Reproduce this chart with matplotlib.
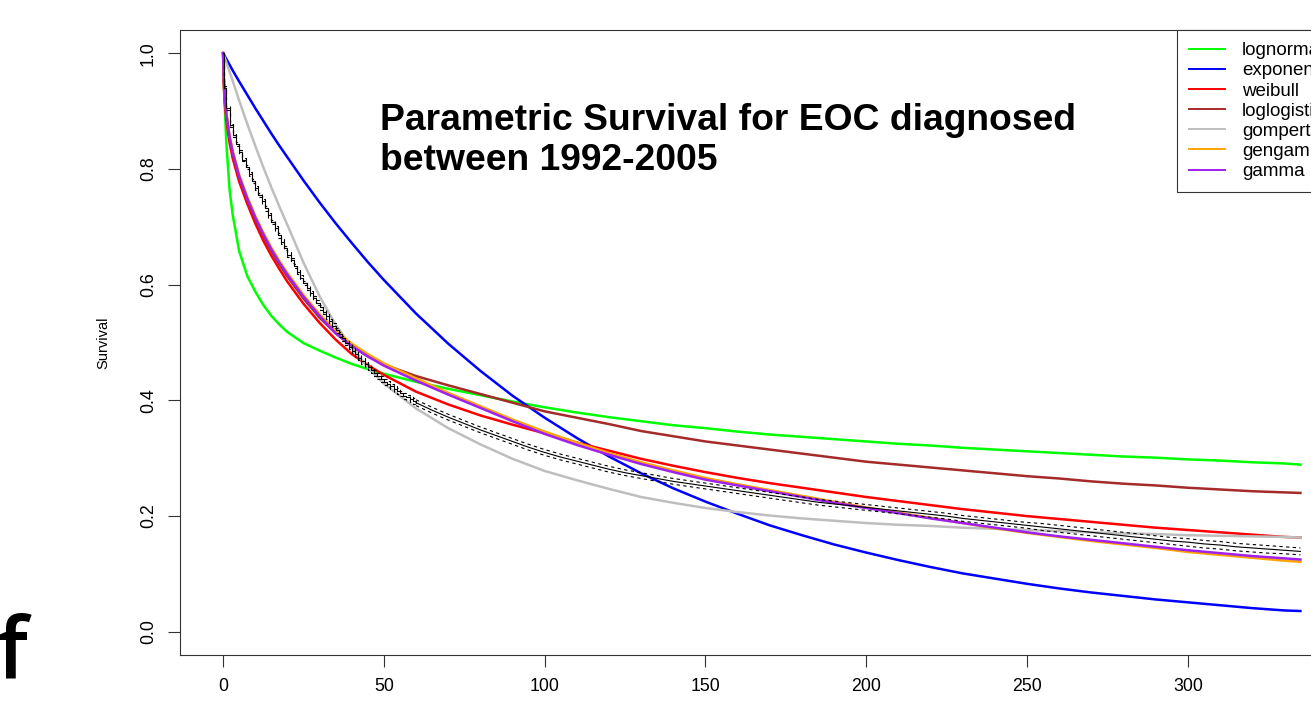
import matplotlib
matplotlib.use("Agg")
import matplotlib.pyplot as plt

plt.rcParams["font.family"] = ["Liberation Sans", "DejaVu Sans"]

# time grid (months) for the fitted parametric curves
fit_t = [0, 0.25, 0.5, 1, 2, 3, 5, 7.5, 10, 12.5, 15, 17.5, 20, 25, 30, 35, 40, 45, 50,
         60, 70, 80, 90, 100, 110, 120, 130, 140, 150, 160, 170, 180, 190, 200,
         210, 220, 230, 240, 250, 260, 270, 280, 290, 300, 310, 320, 330, 335]

lognormal = [1.0, 0.95, 0.91, 0.845, 0.765, 0.72, 0.658, 0.615, 0.588, 0.565, 0.546, 0.531,
             0.518, 0.499, 0.486, 0.474, 0.463, 0.454, 0.446,
             0.432, 0.42, 0.409, 0.398, 0.388, 0.379, 0.371, 0.364, 0.357, 0.352, 0.346,
             0.341, 0.337, 0.333, 0.329, 0.325, 0.322, 0.318, 0.315, 0.312, 0.309,
             0.306, 0.303, 0.301, 0.298, 0.296, 0.293, 0.291, 0.289]
exponential = [1.0, 0.998, 0.995, 0.99, 0.98, 0.97, 0.951, 0.928, 0.905, 0.883, 0.861, 0.84,
               0.82, 0.78, 0.742, 0.706, 0.672, 0.639, 0.608,
               0.55, 0.498, 0.451, 0.408, 0.37, 0.335, 0.303, 0.274, 0.248, 0.225, 0.204,
               0.184, 0.167, 0.151, 0.137, 0.124, 0.112, 0.101, 0.092, 0.083, 0.075,
               0.068, 0.062, 0.056, 0.051, 0.046, 0.041, 0.037, 0.036]
weibull = [1.0, 0.94, 0.915, 0.885, 0.845, 0.818, 0.778, 0.74, 0.706, 0.676, 0.65, 0.627,
           0.605, 0.567, 0.534, 0.505, 0.48, 0.461, 0.444,
           0.415, 0.393, 0.374, 0.358, 0.343, 0.327, 0.313, 0.299, 0.287, 0.276, 0.266,
           0.257, 0.249, 0.241, 0.233, 0.226, 0.219, 0.212, 0.206, 0.2, 0.195,
           0.19, 0.185, 0.18, 0.176, 0.172, 0.168, 0.164, 0.163]
loglogistic = [1.0, 0.95, 0.925, 0.895, 0.855, 0.828, 0.786, 0.747, 0.713, 0.684, 0.658, 0.635,
               0.614, 0.576, 0.543, 0.516, 0.494, 0.476, 0.462,
               0.442, 0.426, 0.411, 0.396, 0.381, 0.37, 0.359, 0.347, 0.338, 0.329, 0.322,
               0.315, 0.308, 0.301, 0.294, 0.289, 0.284, 0.279, 0.274, 0.269, 0.265,
               0.26, 0.256, 0.253, 0.249, 0.246, 0.243, 0.241, 0.24]
gompertz = [1.0, 0.996, 0.992, 0.984, 0.968, 0.952, 0.918, 0.878, 0.84, 0.803, 0.768, 0.735,
            0.703, 0.638, 0.58, 0.531, 0.491, 0.457, 0.429,
            0.386, 0.352, 0.324, 0.299, 0.278, 0.262, 0.247, 0.233, 0.223, 0.214, 0.207,
            0.201, 0.196, 0.192, 0.188, 0.185, 0.183, 0.18, 0.178, 0.176, 0.174,
            0.172, 0.17, 0.169, 0.167, 0.166, 0.165, 0.164, 0.163]
gengamma = [1.0, 0.95, 0.926, 0.897, 0.858, 0.831, 0.79, 0.752, 0.719, 0.69, 0.664, 0.641,
            0.62, 0.582, 0.549, 0.52, 0.498, 0.48, 0.464,
            0.438, 0.413, 0.39, 0.367, 0.346, 0.327, 0.309, 0.293, 0.279, 0.266, 0.255,
            0.245, 0.235, 0.225, 0.215, 0.206, 0.197, 0.188, 0.179, 0.171, 0.164,
            0.157, 0.151, 0.145, 0.138, 0.133, 0.128, 0.123, 0.121]
gamma = [1.0, 0.95, 0.925, 0.895, 0.855, 0.828, 0.787, 0.749, 0.716, 0.687, 0.661, 0.638,
         0.617, 0.579, 0.546, 0.516, 0.494, 0.476, 0.46,
         0.434, 0.41, 0.387, 0.364, 0.342, 0.323, 0.306, 0.29, 0.276, 0.263, 0.253,
         0.243, 0.233, 0.223, 0.214, 0.205, 0.196, 0.188, 0.18, 0.172, 0.165,
         0.159, 0.153, 0.147, 0.141, 0.136, 0.131, 0.127, 0.125]

# Kaplan-Meier estimate with confidence band
km_t = [0, 0.3] + list(range(1, 61)) + list(range(65, 340, 5))
km_s = [1.0, 0.94, 0.905, 0.875, 0.858, 0.843, 0.829, 0.816, 0.803, 0.791, 0.779, 0.767,
        0.755, 0.744, 0.732, 0.72, 0.708, 0.697, 0.685, 0.674, 0.663, 0.652,
        0.642, 0.632, 0.622, 0.612, 0.603, 0.594, 0.585, 0.577, 0.569, 0.561,
        0.553, 0.545, 0.537, 0.529, 0.521, 0.514, 0.507, 0.5, 0.493, 0.486,
        0.48, 0.474, 0.468, 0.462, 0.457, 0.452, 0.447, 0.442, 0.437, 0.432,
        0.428, 0.424, 0.42, 0.416, 0.412, 0.408, 0.405, 0.402, 0.399, 0.396,
        0.383, 0.371, 0.36, 0.349, 0.339, 0.329, 0.319, 0.31, 0.302, 0.295,
        0.288, 0.281, 0.275, 0.27, 0.265, 0.26, 0.256, 0.252, 0.248, 0.244,
        0.24, 0.236, 0.232, 0.228, 0.224, 0.221, 0.218, 0.215, 0.212, 0.209,
        0.206, 0.203, 0.2, 0.196, 0.193, 0.19, 0.187, 0.184, 0.181, 0.178,
        0.175, 0.172, 0.169, 0.166, 0.163, 0.16, 0.157, 0.155, 0.152, 0.15,
        0.147, 0.145, 0.143, 0.141, 0.139]
km_upper = [1.0, 0.943, 0.908, 0.878, 0.861, 0.846, 0.832, 0.819, 0.806, 0.794, 0.782, 0.770,
            0.759, 0.748, 0.736, 0.724, 0.712, 0.701, 0.689, 0.678, 0.667, 0.656,
            0.646, 0.636, 0.626, 0.616, 0.607, 0.598, 0.589, 0.581, 0.573, 0.565,
            0.557, 0.549, 0.541, 0.533, 0.525, 0.518, 0.511, 0.504, 0.497, 0.490,
            0.485, 0.479, 0.473, 0.467, 0.462, 0.457, 0.452, 0.447, 0.442, 0.437,
            0.433, 0.429, 0.425, 0.421, 0.417, 0.413, 0.410, 0.407, 0.404, 0.401,
            0.388, 0.376, 0.365, 0.354, 0.344, 0.334, 0.324, 0.315, 0.307, 0.300,
            0.293, 0.286, 0.280, 0.275, 0.270, 0.265, 0.261, 0.257, 0.253, 0.249,
            0.245, 0.241, 0.237, 0.233, 0.229, 0.226, 0.223, 0.220, 0.217, 0.214,
            0.211, 0.208, 0.205, 0.201, 0.198, 0.195, 0.192, 0.189, 0.187, 0.184,
            0.181, 0.178, 0.175, 0.172, 0.169, 0.166, 0.163, 0.161, 0.158, 0.156,
            0.153, 0.151, 0.149, 0.147, 0.145]
km_lower = [1.0, 0.937, 0.902, 0.872, 0.855, 0.840, 0.826, 0.813, 0.800, 0.788, 0.776, 0.764,
            0.751, 0.740, 0.728, 0.716, 0.704, 0.693, 0.681, 0.670, 0.659, 0.648,
            0.638, 0.628, 0.618, 0.608, 0.599, 0.590, 0.581, 0.573, 0.565, 0.557,
            0.549, 0.541, 0.533, 0.525, 0.517, 0.510, 0.503, 0.496, 0.489, 0.482,
            0.475, 0.469, 0.463, 0.457, 0.452, 0.447, 0.442, 0.437, 0.432, 0.427,
            0.423, 0.419, 0.415, 0.411, 0.407, 0.403, 0.400, 0.397, 0.394, 0.391,
            0.378, 0.366, 0.355, 0.344, 0.334, 0.324, 0.314, 0.305, 0.297, 0.290,
            0.283, 0.276, 0.270, 0.265, 0.260, 0.255, 0.251, 0.247, 0.243, 0.239,
            0.235, 0.231, 0.227, 0.223, 0.219, 0.216, 0.213, 0.210, 0.207, 0.204,
            0.201, 0.198, 0.195, 0.191, 0.188, 0.185, 0.182, 0.179, 0.175, 0.172,
            0.169, 0.166, 0.163, 0.160, 0.157, 0.154, 0.151, 0.148, 0.145, 0.143,
            0.140, 0.138, 0.136, 0.135, 0.133]

models = ["lognormal", "exponential", "weibull", "loglogistic", "gompertz", "gengamma", "gamma"]
curves = [lognormal, exponential, weibull, loglogistic, gompertz, gengamma, gamma]
colors = ["#00FF00", "#0000FF", "#FF0000", "#A52A2A", "#BEBEBE", "#FFA500", "#A020F0"]

fig = plt.figure(figsize=(13.11, 7.01), dpi=100)
# the plot region runs past the right edge of the picture (cropped screenshot)
ax = fig.add_axes([180 / 1311, 1 - 655 / 701, (1343.5 - 180) / 1311, (655 - 30) / 701])

for name, vals, col in zip(models, curves, colors):
    ax.plot(fit_t, vals, color=col, lw=1.8, label=name, zorder=2)

# monthly steps are visible early on; later the steps are tiny, so just join the points
n_early = 62
for vals, ls in [(km_s, "-"), (km_upper, (0, (3, 3))), (km_lower, (0, (3, 3)))]:
    ax.step(km_t[:n_early], vals[:n_early], where="post", color="black", lw=0.8, ls=ls, zorder=3)
    ax.plot(km_t[n_early - 1:], vals[n_early - 1:], color="black", lw=0.8, ls=ls, zorder=3)

ax.set_xlim(-13.4, 348.4)
ax.set_ylim(-0.04, 1.04)
ax.set_xticks([0, 50, 100, 150, 200, 250, 300])
ax.set_yticks([0.0, 0.2, 0.4, 0.6, 0.8, 1.0])
ax.set_yticklabels(["0.0", "0.2", "0.4", "0.6", "0.8", "1.0"])
ax.tick_params(direction="out", length=8.5, width=0.8, labelsize=12.8, pad=8, color="#333333")
ax.tick_params(axis="y", labelrotation=90)
for lab in ax.get_yticklabels():
    lab.set_va("center")
for sp in ax.spines.values():
    sp.set_linewidth(0.8)
    sp.set_color("#333333")

leg = ax.legend(loc="upper left", bbox_to_anchor=(1177 / 1311, 1 - 30 / 701),
                bbox_transform=fig.transFigure, fancybox=False, framealpha=1,
                edgecolor="#333333", borderpad=0.65, labelspacing=0.16,
                handlelength=1.92, handletextpad=0.9, borderaxespad=0, fontsize=13.5)
leg.get_frame().set_linewidth(0.8)
for h in leg.get_lines():
    h.set_linewidth(1.4)

fig.text(103 / 1311, 1 - 343 / 701, "Survival", rotation=90, ha="center", va="center", fontsize=10.5)
fig.text(380 / 1311, 1 - 103 / 701, "Parametric Survival for EOC diagnosed\nbetween 1992-2005",
         fontsize=26.8, fontweight="bold", ha="left", va="top", linespacing=1.19)
fig.text(-0.003, 1 - 679 / 701, "f", fontsize=61, family="Open Sans", fontweight="semibold",
         ha="left", va="baseline")

fig.savefig("out.png", dpi=100)
